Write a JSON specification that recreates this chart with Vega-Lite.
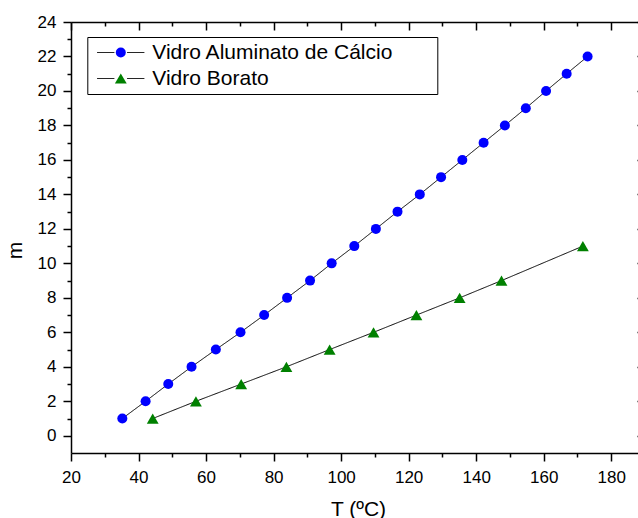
{
  "$schema": "https://vega.github.io/schema/vega-lite/v6.json",
  "width": 574,
  "height": 431,
  "autosize": {"type": "none"},
  "padding": {"left": 71, "top": 22, "right": -7, "bottom": 65},
  "background": "white",
  "config": {
    "view": {"stroke": null},
    "font": "Liberation Sans",
    "axis": {
      "grid": false,
      "domainColor": "black",
      "domainWidth": 1.5,
      "tickColor": "black",
      "tickWidth": 1.5,
      "labelColor": "black",
      "labelFont": "Liberation Sans",
      "labelFontSize": 17,
      "titleColor": "black",
      "titleFont": "Liberation Sans",
      "titleFontSize": 21,
      "titleFontWeight": "normal"
    },
    "legend": {
      "labelFont": "Liberation Sans",
      "labelColor": "black",
      "labelLimit": 0
    }
  },
  "data": {
    "values": [
      {"serie": "Vidro Aluminato de Cálcio", "T": 35.2, "m": 1},
      {"serie": "Vidro Aluminato de Cálcio", "T": 42.1, "m": 2},
      {"serie": "Vidro Aluminato de Cálcio", "T": 48.8, "m": 3},
      {"serie": "Vidro Aluminato de Cálcio", "T": 55.7, "m": 4},
      {"serie": "Vidro Aluminato de Cálcio", "T": 62.9, "m": 5},
      {"serie": "Vidro Aluminato de Cálcio", "T": 70.2, "m": 6},
      {"serie": "Vidro Aluminato de Cálcio", "T": 77.2, "m": 7},
      {"serie": "Vidro Aluminato de Cálcio", "T": 84.0, "m": 8},
      {"serie": "Vidro Aluminato de Cálcio", "T": 90.8, "m": 9},
      {"serie": "Vidro Aluminato de Cálcio", "T": 97.2, "m": 10},
      {"serie": "Vidro Aluminato de Cálcio", "T": 103.9, "m": 11},
      {"serie": "Vidro Aluminato de Cálcio", "T": 110.3, "m": 12},
      {"serie": "Vidro Aluminato de Cálcio", "T": 116.7, "m": 13},
      {"serie": "Vidro Aluminato de Cálcio", "T": 123.3, "m": 14},
      {"serie": "Vidro Aluminato de Cálcio", "T": 129.6, "m": 15},
      {"serie": "Vidro Aluminato de Cálcio", "T": 135.9, "m": 16},
      {"serie": "Vidro Aluminato de Cálcio", "T": 142.2, "m": 17},
      {"serie": "Vidro Aluminato de Cálcio", "T": 148.5, "m": 18},
      {"serie": "Vidro Aluminato de Cálcio", "T": 154.7, "m": 19},
      {"serie": "Vidro Aluminato de Cálcio", "T": 160.7, "m": 20},
      {"serie": "Vidro Aluminato de Cálcio", "T": 166.8, "m": 21},
      {"serie": "Vidro Aluminato de Cálcio", "T": 173.0, "m": 22},
      {"serie": "Vidro Borato", "T": 44.2, "m": 1},
      {"serie": "Vidro Borato", "T": 57.0, "m": 2},
      {"serie": "Vidro Borato", "T": 70.4, "m": 3},
      {"serie": "Vidro Borato", "T": 83.8, "m": 4},
      {"serie": "Vidro Borato", "T": 96.6, "m": 5},
      {"serie": "Vidro Borato", "T": 109.6, "m": 6},
      {"serie": "Vidro Borato", "T": 122.3, "m": 7},
      {"serie": "Vidro Borato", "T": 135.1, "m": 8},
      {"serie": "Vidro Borato", "T": 147.5, "m": 9},
      {"serie": "Vidro Borato", "T": 171.6, "m": 11}
    ]
  },
  "resolve": {"axis": {"x": "independent", "y": "independent"}},
  "layer": [
    {
      "mark": {"type": "line", "color": "black", "strokeWidth": 1},
      "encoding": {
        "x": {
          "field": "T",
          "type": "quantitative",
          "scale": {"domain": [20, 190], "nice": false, "zero": false},
          "axis": {
            "orient": "bottom",
            "values": [20, 30, 40, 50, 60, 70, 80, 90, 100, 110, 120, 130, 140, 150, 160, 170, 180],
            "tickSize": {"condition": {"test": "datum.value % 20 === 0", "value": 8}, "value": 4},
            "labelExpr": "datum.value % 20 === 0 ? datum.label : ''",
            "labelPadding": 8,
            "labelFlush": false,
            "labelOverlap": false,
            "title": "T (ºC)",
            "titleBaseline": "alphabetic",
            "titleY": 62
          }
        },
        "y": {
          "field": "m",
          "type": "quantitative",
          "scale": {"domain": [-1, 24], "nice": false, "zero": false},
          "axis": {
            "orient": "left",
            "values": [0, 1, 2, 3, 4, 5, 6, 7, 8, 9, 10, 11, 12, 13, 14, 15, 16, 17, 18, 19, 20, 21, 22, 23, 24],
            "tickSize": {"condition": {"test": "datum.value % 2 === 0", "value": 8}, "value": 4},
            "labelExpr": "datum.value % 2 === 0 ? datum.label : ''",
            "labelPadding": 7,
            "labelFlush": false,
            "labelOverlap": false,
            "title": "m",
            "titleAngle": -90,
            "titleBaseline": "alphabetic",
            "titleX": -50,
            "titleY": 228
          }
        },
        "strokeDash": {
          "field": "serie",
          "type": "nominal",
          "scale": {
            "domain": ["Vidro Borato", "Vidro Aluminato de Cálcio"],
            "range": [[1, 0], [1, 0]]
          },
          "legend": {
            "orient": "none",
            "legendX": 16.3,
            "legendY": 15,
            "title": null,
            "padding": 5,
            "strokeColor": "black",
            "symbolOffset": 18,
            "symbolSize": 64,
            "symbolType": "M-5.9,0H-1.6M1.6,0H5.9",
            "symbolStrokeColor": "black",
            "symbolStrokeWidth": 1,
            "symbolDash": [1, 0],
            "labelExpr": "''",
            "labelOffset": 301,
            "labelFontSize": 21,
            "rowPadding": 4,
            "zindex": 0
          }
        }
      }
    },
    {
      "mark": {"type": "point", "filled": true, "opacity": 1, "strokeWidth": 0},
      "encoding": {
        "x": {
          "field": "T",
          "type": "quantitative",
          "scale": {"domain": [20, 190], "nice": false, "zero": false},
          "axis": {
            "orient": "top",
            "values": [20, 30, 40, 50, 60, 70, 80, 90, 100, 110, 120, 130, 140, 150, 160, 170, 180],
            "tickSize": {"condition": {"test": "datum.value % 20 === 0", "value": -8}, "value": -4},
            "labels": false,
            "title": null
          }
        },
        "y": {
          "field": "m",
          "type": "quantitative",
          "scale": {"domain": [-1, 24], "nice": false, "zero": false},
          "axis": {
            "orient": "right",
            "values": [0, 1, 2, 3, 4, 5, 6, 7, 8, 9, 10, 11, 12, 13, 14, 15, 16, 17, 18, 19, 20, 21, 22, 23, 24],
            "tickSize": {"condition": {"test": "datum.value % 2 === 0", "value": -8}, "value": -4},
            "labels": false,
            "title": null
          }
        },
        "color": {
          "field": "serie",
          "type": "nominal",
          "scale": {
            "domain": ["Vidro Aluminato de Cálcio", "Vidro Borato"],
            "range": ["#0000ff", "#008000"]
          },
          "legend": {
            "orient": "none",
            "legendX": 16.3,
            "legendY": 15,
            "title": null,
            "padding": 5,
            "symbolOffset": 18,
            "symbolStrokeWidth": 0,
            "symbolOpacity": 1,
            "labelOffset": 21,
            "labelFontSize": 21,
            "rowPadding": 4,
            "zindex": 1
          }
        },
        "shape": {
          "field": "serie",
          "type": "nominal",
          "scale": {
            "domain": ["Vidro Aluminato de Cálcio", "Vidro Borato"],
            "range": ["circle", "triangle-up"]
          }
        },
        "size": {
          "field": "serie",
          "type": "nominal",
          "scale": {
            "domain": ["Vidro Aluminato de Cálcio", "Vidro Borato"],
            "range": [100, 140]
          }
        }
      }
    }
  ]
}
